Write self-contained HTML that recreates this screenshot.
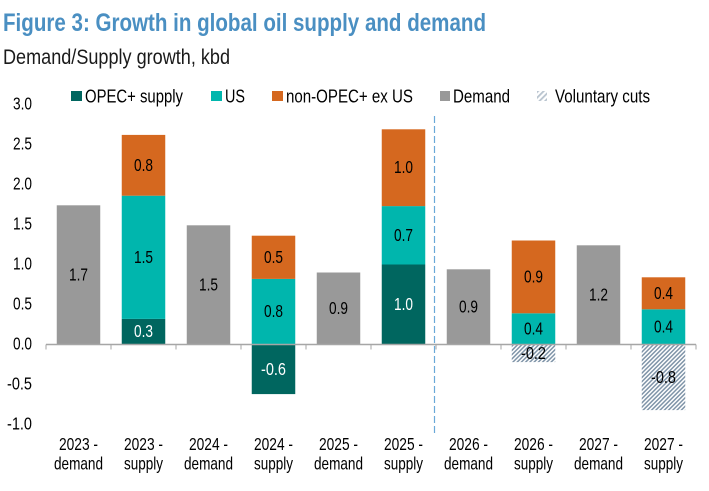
<!DOCTYPE html>
<html lang="en">
<head>
<meta charset="utf-8">
<title>Figure 3: Growth in global oil supply and demand</title>
<style>
html,body{margin:0;padding:0;background:#fff;}
svg{display:block;font-family:"Liberation Sans",Arial,sans-serif;}
</style>
</head>
<body>
<svg id="chart" xmlns="http://www.w3.org/2000/svg" width="709" height="491" viewBox="0 0 709 491">
  <defs>
    <pattern id="hatch" patternUnits="userSpaceOnUse" width="3" height="3" patternTransform="rotate(-45)">
      <rect width="3" height="3" fill="#ffffff"></rect>
      <rect width="3" height="1.5" fill="#7f94a8"></rect>
    </pattern>
    <pattern id="hatch-legend" patternUnits="userSpaceOnUse" width="4" height="4" patternTransform="rotate(-45)">
      <rect width="4" height="4" fill="#ffffff"></rect>
      <rect width="4" height="1.8" fill="#b9c4cf"></rect>
    </pattern>
  </defs>
  <text x="3" y="31" font-size="25" font-weight="700" fill="#4a8fc2" textLength="483" lengthAdjust="spacingAndGlyphs">Figure 3: Growth in global oil supply and demand</text>
  <text x="3" y="64" font-size="21" fill="#1a1a1a" textLength="227" lengthAdjust="spacingAndGlyphs">Demand/Supply growth, kbd</text>

  <g font-size="18" fill="#000">
    <g>
      <rect x="71" y="91" width="11" height="10" fill="#00665f"></rect>
      <text x="85" y="102.5" textLength="98" lengthAdjust="spacingAndGlyphs">OPEC+ supply</text>
    </g>
    <g>
      <rect x="211" y="91" width="11" height="10" fill="#00b6ad"></rect>
      <text x="225" y="102.5" textLength="20" lengthAdjust="spacingAndGlyphs">US</text>
    </g>
    <g>
      <rect x="272" y="91" width="11" height="10" fill="#d5681f"></rect>
      <text x="286" y="102.5" textLength="127" lengthAdjust="spacingAndGlyphs">non-OPEC+ ex US</text>
    </g>
    <g>
      <rect x="440" y="91" width="10" height="10" fill="#999999"></rect>
      <text x="453" y="102.5" textLength="57" lengthAdjust="spacingAndGlyphs">Demand</text>
    </g>
    <g>
      <rect x="537" y="91" width="10" height="10" fill="url(#hatch-legend)"></rect>
      <text x="555" y="102.5" textLength="95" lengthAdjust="spacingAndGlyphs">Voluntary cuts</text>
    </g>
  </g>

  <g id="y-axis"></g>
  <g id="bars"></g>
  <g id="x-axis"></g>
  <g id="value-labels"></g>
</svg>
<script>
const categoryYears = ['2023 -','2023 -','2024 -','2024 -','2025 -','2025 -','2026 -','2026 -','2027 -','2027 -'];
const categoryKinds = ['demand','supply','demand','supply','demand','supply','demand','supply','demand','supply'];
const yTicks = [3.0,2.5,2.0,1.5,1.0,0.5,0.0,-0.5,-1.0];
const yTickLabels = ['3.0','2.5','2.0','1.5','1.0','0.5','0.0','-0.5','-1.0'];

const opecValues    = [0,0.32,0,-0.62,0,1.0,0,0,0,0];
const usValues      = [0,1.54,0,0.82,0,0.73,0,0.39,0,0.44];
const nonOpecValues = [0,0.76,0,0.54,0,0.96,0,0.91,0,0.40];
const demandValues  = [1.74,0,1.49,0,0.90,0,0.94,0,1.24,0];
const cutsValues    = [0,0,0,0,0,0,0,-0.22,0,-0.82];

const opecLabels    = ['','0.3','','-0.6','','1.0','','','',''];
const usLabels      = ['','1.5','','0.8','','0.7','','0.4','','0.4'];
const nonOpecLabels = ['','0.8','','0.5','','1.0','','0.9','','0.4'];
const demandLabels  = ['1.7','','1.5','','0.9','','0.9','','1.2',''];
const cutsLabels    = ['','','','','','','','-0.2','','-0.8'];

const dividerAfterCategory = 6;

const NS = 'http://www.w3.org/2000/svg';
const plotLeft = 46, catWidth = 65, barWidth = 43.5, zeroY = 344.5, unit = 80;
function xBand(i){ return plotLeft + i * catWidth; }
function xCenter(i){ return xBand(i) + catWidth / 2; }
function yScale(v){ return zeroY - v * unit; }
function make(tag, attrs, parent){
  const el = document.createElementNS(NS, tag);
  for (const k in attrs) el.setAttribute(k, attrs[k]);
  parent.appendChild(el);
  return el;
}

const yAxis = document.getElementById('y-axis');
const xAxis = document.getElementById('x-axis');
const barsG = document.getElementById('bars');
const labelsG = document.getElementById('value-labels');

yTicks.forEach(function(t, i){
  const el = make('text', {x: 32, y: yScale(t) + 5, 'font-size': 17.5, 'text-anchor': 'end', fill: '#000'}, yAxis);
  
  
  el.setAttribute('textLength', yTickLabels[i].length > 3 ? 25 : 19);
  el.setAttribute('lengthAdjust', 'spacingAndGlyphs');
  el.textContent = yTickLabels[i];
});

function drawSegment(i, from, to, fill, name){
  if (to === from) return;
  const top = Math.min(yScale(from), yScale(to));
  const h = Math.abs(yScale(from) - yScale(to));
  const r = make('rect', {x: xCenter(i) - barWidth / 2, y: top, width: barWidth, height: h, fill: fill}, barsG);
  
  
}
function drawLabel(i, from, to, text, color){
  if (!text) return;
  const mid = yScale((from + to) / 2);
  const el = make('text', {x: xCenter(i), y: mid + 5.5, 'font-size': 17.5, 'text-anchor': 'middle', fill: color}, labelsG);
  
  
  el.setAttribute('textLength', text.length > 3 ? 25 : 19);
  el.setAttribute('lengthAdjust', 'spacingAndGlyphs');
  el.textContent = text;
}

categoryKinds.forEach(function(kind, i){
  drawSegment(i, 0, demandValues[i], '#999999', 'bar-demand');
  drawLabel(i, 0, demandValues[i], demandLabels[i], '#000');

  const op = opecValues[i], us = usValues[i], no = nonOpecValues[i], cu = cutsValues[i];
  const base = op > 0 ? op : 0;
  drawSegment(i, 0, op, '#00665f', 'bar-opec-supply');
  drawLabel(i, 0, op, opecLabels[i], '#ffffff');
  drawSegment(i, base, base + us, '#00b6ad', 'bar-us');
  drawLabel(i, base, base + us, usLabels[i], '#000');
  drawSegment(i, base + us, base + us + no, '#d5681f', 'bar-non-opec-ex-us');
  drawLabel(i, base + us, base + us + no, nonOpecLabels[i], '#000');
  drawSegment(i, 0, cu, 'url(#hatch)', 'bar-voluntary-cuts');
  drawLabel(i, 0, cu, cutsLabels[i], '#000');
});

const axisLine = make('line', {x1: plotLeft, x2: xBand(categoryKinds.length), y1: zeroY, y2: zeroY, stroke: '#a6a6a6', 'stroke-width': 1.4}, xAxis);



for (let i = 0; i <= categoryKinds.length; i++) {
  const tick = make('line', {x1: xBand(i), x2: xBand(i), y1: zeroY, y2: zeroY + 5, stroke: '#a6a6a6', 'stroke-width': 1}, xAxis);
  
  
}

categoryKinds.forEach(function(kind, i){
  const l1 = make('text', {x: xCenter(i), y: 450, 'font-size': 17.5, 'text-anchor': 'middle', fill: '#000', textLength: 39, lengthAdjust: 'spacingAndGlyphs'}, xAxis);
  
  
  l1.textContent = categoryYears[i];
  const l2 = make('text', {x: xCenter(i), y: 469.5, 'font-size': 17.5, 'text-anchor': 'middle', fill: '#000', textLength: kind === 'demand' ? 49 : 39, lengthAdjust: 'spacingAndGlyphs'}, xAxis);
  
  
  l2.textContent = kind;
});

const divider = make('line', {x1: xBand(dividerAfterCategory) - 1.5, x2: xBand(dividerAfterCategory) - 1.5, y1: 116, y2: 434, stroke: '#6aa9d8', 'stroke-width': 1.2, 'stroke-dasharray': '7 3'}, xAxis);


</script>
</body>
</html>
